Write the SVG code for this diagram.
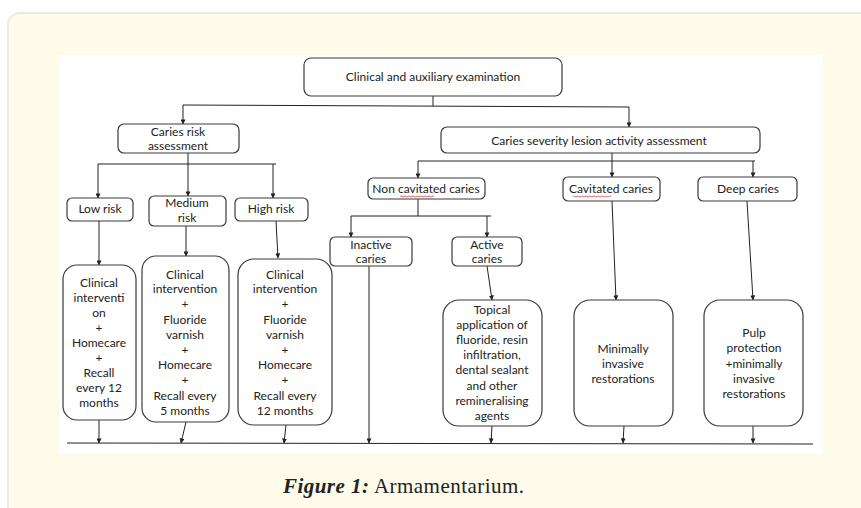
<svg xmlns="http://www.w3.org/2000/svg" width="861" height="508" viewBox="0 0 861 508">
<style>
.box{fill:#fff;stroke:#3a3a3a;stroke-width:1.2}
.t{font-family:Lato,"Open Sans","Liberation Sans",sans-serif;font-size:12px;fill:#222;text-anchor:middle}
.c line,.c polyline{stroke:#222;stroke-width:1;fill:none}
.a{marker-end:url(#ah)}
.sq{stroke:#d23;stroke-width:0.7;fill:none}
</style>
<defs>
<marker id="ah" viewBox="0 0 6 6" refX="5.5" refY="3" markerWidth="5" markerHeight="5" orient="auto" markerUnits="userSpaceOnUse">
<path d="M0,0 L6,3 L0,6 z" fill="#222"/>
</marker>
</defs>
<rect x="0" y="0" width="861" height="508" fill="#fff"/>
<rect x="8" y="13" width="870" height="510" rx="12" fill="#fffbea" stroke="#ecebdc" stroke-width="2"/>
<rect x="59" y="55" width="764" height="398" fill="#fff"/>

<g class="c">
<line x1="433" y1="96" x2="433" y2="106"/>
<line x1="183" y1="105" x2="629" y2="107"/>
<line class="a" x1="183" y1="105" x2="183" y2="124"/>
<line class="a" x1="629" y1="107" x2="629" y2="127"/>
<line class="a" x1="188" y1="153" x2="188" y2="196"/>
<line x1="98" y1="164" x2="276" y2="164"/>
<line class="a" x1="98" y1="164" x2="98" y2="198"/>
<line class="a" x1="273" y1="164" x2="273" y2="198"/>
<line class="a" x1="612" y1="153" x2="612" y2="177"/>
<line x1="418" y1="161" x2="755" y2="161"/>
<line class="a" x1="418" y1="161" x2="418" y2="178"/>
<line class="a" x1="753" y1="161" x2="753" y2="177"/>
<line x1="418" y1="199" x2="418" y2="216"/>
<line x1="351" y1="216" x2="491" y2="216"/>
<line class="a" x1="351" y1="216" x2="351" y2="237"/>
<line class="a" x1="487" y1="216" x2="487" y2="237"/>
<line class="a" x1="99" y1="221" x2="99" y2="265"/>
<line class="a" x1="186" y1="226" x2="186" y2="256"/>
<line class="a" x1="276" y1="221" x2="278" y2="258"/>
<line class="a" x1="487" y1="266" x2="492" y2="300"/>
<line class="a" x1="612" y1="201" x2="616" y2="300"/>
<line class="a" x1="747" y1="201" x2="753" y2="300"/>
<line class="a" x1="99" y1="420" x2="99" y2="443"/>
<line class="a" x1="186" y1="422" x2="181" y2="443"/>
<line class="a" x1="286" y1="425" x2="284" y2="443"/>
<line class="a" x1="369" y1="266" x2="369" y2="443"/>
<line class="a" x1="492" y1="426" x2="491" y2="443"/>
<line class="a" x1="624" y1="426" x2="623" y2="443"/>
<line class="a" x1="753" y1="426" x2="753" y2="443"/>
<line x1="67" y1="443" x2="813" y2="444"/>
</g>

<g id="exam"><rect class="box" x="304" y="58" width="258" height="38" rx="7"/><text class="t" x="433" y="81">Clinical and auxiliary examination</text></g>
<g id="risk"><rect class="box" x="118" y="124" width="121" height="29" rx="6"/><text class="t" x="178" y="136">Caries risk</text><text class="t" x="178" y="150">assessment</text></g>
<g id="severity"><rect class="box" x="441" y="127" width="319" height="26" rx="6"/><text class="t" x="599" y="145">Caries severity lesion activity assessment</text></g>
<g id="low"><rect class="box" x="67" y="198" width="66" height="23" rx="5"/><text class="t" x="100" y="213">Low risk</text></g>
<g id="medium"><rect class="box" x="149" y="196" width="77" height="30" rx="5"/><text class="t" x="187" y="207">Medium</text><text class="t" x="187" y="222">risk</text></g>
<g id="high"><rect class="box" x="235" y="198" width="73" height="23" rx="5"/><text class="t" x="271" y="213">High risk</text></g>
<g id="noncav"><rect class="box" x="368" y="178" width="117" height="21" rx="5"/><text class="t" x="426" y="193">Non cavitated caries</text><path class="sq" d="M400,196.5 q1,-1 2,0 t2,0 t2,0 t2,0 t2,0 t2,0 t2,0 t2,0 t2,0 t2,0 t2,0 t2,0 t2,0 t2,0 t2,0 t2,0 t2,0"/></g>
<g id="cav"><rect class="box" x="563" y="177" width="97" height="24" rx="5"/><text class="t" x="611" y="193">Cavitated caries</text><path class="sq" d="M573,196.5 q1,-1 2,0 t2,0 t2,0 t2,0 t2,0 t2,0 t2,0 t2,0 t2,0 t2,0 t2,0 t2,0 t2,0 t2,0 t2,0 t2,0 t2,0 t2,0 t2,0"/></g>
<g id="deep"><rect class="box" x="698" y="177" width="99" height="24" rx="5"/><text class="t" x="748" y="193">Deep caries</text></g>
<g id="inactive"><rect class="box" x="330" y="237" width="82" height="29" rx="5"/><text class="t" x="371" y="249">Inactive</text><text class="t" x="371" y="263">caries</text></g>
<g id="active"><rect class="box" x="452" y="237" width="70" height="29" rx="5"/><text class="t" x="487" y="249">Active</text><text class="t" x="487" y="263">caries</text></g>

<g id="lowbox"><rect class="box" x="63" y="265" width="73" height="155" rx="14"/>
<text class="t" x="99" y="287">Clinical</text><text class="t" x="99" y="302">interventi</text><text class="t" x="99" y="317">on</text><text class="t" x="99" y="332">+</text><text class="t" x="99" y="347">Homecare</text><text class="t" x="99" y="362">+</text><text class="t" x="99" y="377">Recall</text><text class="t" x="99" y="392">every 12</text><text class="t" x="99" y="407">months</text></g>
<g id="medbox"><rect class="box" x="142" y="256" width="87" height="166" rx="14"/>
<text class="t" x="185" y="279">Clinical</text><text class="t" x="185" y="293">intervention</text><text class="t" x="185" y="308">+</text><text class="t" x="185" y="324">Fluoride</text><text class="t" x="185" y="339">varnish</text><text class="t" x="185" y="354">+</text><text class="t" x="185" y="369">Homecare</text><text class="t" x="185" y="384">+</text><text class="t" x="185" y="400">Recall every</text><text class="t" x="185" y="415">5 months</text></g>
<g id="highbox"><rect class="box" x="238" y="259" width="94" height="166" rx="16"/>
<text class="t" x="285" y="279">Clinical</text><text class="t" x="285" y="293">intervention</text><text class="t" x="285" y="308">+</text><text class="t" x="285" y="324">Fluoride</text><text class="t" x="285" y="339">varnish</text><text class="t" x="285" y="354">+</text><text class="t" x="285" y="369">Homecare</text><text class="t" x="285" y="384">+</text><text class="t" x="285" y="400">Recall every</text><text class="t" x="285" y="415">12 months</text></g>
<g id="topical"><rect class="box" x="443" y="300" width="99" height="126" rx="16"/>
<text class="t" x="492" y="314">Topical</text><text class="t" x="492" y="329">application of</text><text class="t" x="492" y="344">fluoride, resin</text><text class="t" x="492" y="359">infiltration,</text><text class="t" x="492" y="374">dental sealant</text><text class="t" x="492" y="390">and other</text><text class="t" x="492" y="405">remineralising</text><text class="t" x="492" y="420">agents</text></g>
<g id="minimal"><rect class="box" x="574" y="300" width="99" height="126" rx="16"/>
<text class="t" x="623" y="353">Minimally</text><text class="t" x="623" y="368">invasive</text><text class="t" x="623" y="383">restorations</text></g>
<g id="pulp"><rect class="box" x="704" y="300" width="99" height="126" rx="16"/>
<text class="t" x="754" y="337">Pulp</text><text class="t" x="754" y="352">protection</text><text class="t" x="754" y="368">+minimally</text><text class="t" x="754" y="383">invasive</text><text class="t" x="754" y="398">restorations</text></g>

<text x="283" y="493" font-family="'Liberation Serif','DejaVu Serif',serif" font-size="21" fill="#222" textLength="241" lengthAdjust="spacing"><tspan font-weight="bold" font-style="italic">Figure 1:</tspan> Armamentarium.</text>
</svg>
